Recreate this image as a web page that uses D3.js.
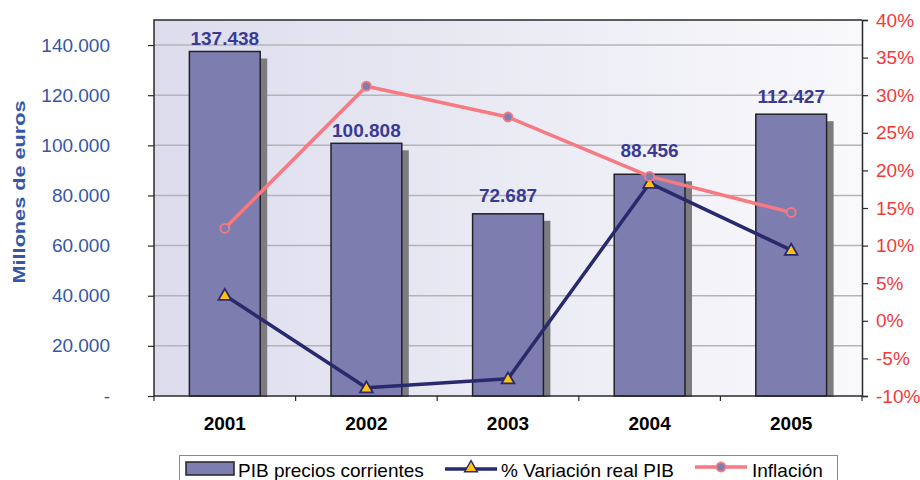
<!DOCTYPE html>
<html>
<head>
<meta charset="utf-8">
<script src="https://cdn.jsdelivr.net/npm/d3@7"></script>
<style>
  html, body { margin: 0; padding: 0; background: #fff; }
  svg { display: block; font-family: Arial, "Liberation Sans", sans-serif; }
</style>
</head>
<body>
<svg id="chart" width="920" height="480"></svg>
<script>
// PIB de Venezuela 2001-2005: valor en millones de euros, crecimiento real e inflación
const years = ["2001", "2002", "2003", "2004", "2005"];
const pibCorriente = [137438, 100808, 72687, 88456, 112427];
const variacionReal = [3.4, -8.9, -7.7, 18.3, 9.4];
const inflacion = [12.3, 31.2, 27.1, 19.2, 14.4];
const leftTicks = [0, 20000, 40000, 60000, 80000, 100000, 120000, 140000];
const rightTicks = [-10, -5, 0, 5, 10, 15, 20, 25, 30, 35, 40];

const fmtMiles = v => v === 0 ? "-" : d3.format(",")(v).replace(/,/g, ".");

const svg = d3.select("#chart");
const m = { left: 154, right: 862, top: 20, bottom: 396 };
const FONT = "Arial, 'Liberation Sans', sans-serif";
// separación (px) entre cada etiqueta de valor y el techo de su barra,
// algo mayor donde las líneas pasarían por encima del texto
const labelGap = [6, 6, 12, 17, 11];

const x = d3.scaleBand().domain(years).range([m.left, m.right]).paddingInner(0.5).paddingOuter(0.25);
const xc = d3.scalePoint().domain(years).range([m.left, m.right]).padding(0.5);
const yL = d3.scaleLinear().domain([0, 150000]).range([m.bottom, m.top]);
const yR = d3.scaleLinear().domain([-10, 40]).range([m.bottom, m.top]);

// fondo del área de trazado con degradado horizontal
const defs = svg.append("defs");
const grad = defs.append("linearGradient").attr("id", "bg").attr("x1", 0).attr("x2", 1).attr("y1", 0).attr("y2", 0);
grad.append("stop").attr("offset", 0).attr("stop-color", "#dcdced");
grad.append("stop").attr("offset", 1).attr("stop-color", "#f9f9fc");

svg.append("rect")
  .attr("x", m.left).attr("y", m.top)
  .attr("width", m.right - m.left).attr("height", m.bottom - m.top)
  .attr("fill", "url(#bg)");

// líneas de cuadrícula
svg.append("g").selectAll("line")
  .data(leftTicks.filter(d => d > 0))
  .join("line")
  .attr("x1", m.left).attr("x2", m.right)
  .attr("y1", d => yL(d)).attr("y2", d => yL(d))
  .attr("stroke", "#b4b4b8").attr("stroke-width", 1.5);

// marco superior e izquierdo
svg.append("path")
  .attr("d", `M${m.left},${m.bottom}V${m.top}H${m.right}`)
  .attr("fill", "none").attr("stroke", "#2a2a2a").attr("stroke-width", 1.5);

// barras con sombra
const bw = x.bandwidth();
const bars = svg.append("g");
bars.selectAll("rect.shadow")
  .data(pibCorriente)
  .join("rect")
  .attr("class", "shadow")
  .attr("x", (d, i) => x(years[i]) + 7)
  .attr("y", d => yL(d) + 7)
  .attr("width", bw)
  .attr("height", d => m.bottom - yL(d) - 6)
  .attr("fill", "#7c7c80");
bars.selectAll("rect.bar")
  .data(pibCorriente)
  .join("rect")
  .attr("class", "bar")
  .attr("x", (d, i) => x(years[i]))
  .attr("y", d => yL(d))
  .attr("width", bw)
  .attr("height", d => m.bottom - yL(d))
  .attr("fill", "#7d7daf")
  .attr("stroke", "#222228").attr("stroke-width", 1.5);

// etiquetas de valor de las barras
svg.append("g").selectAll("text")
  .data(pibCorriente)
  .join("text")
  .attr("x", (d, i) => xc(years[i]))
  .attr("y", (d, i) => yL(d) - labelGap[i])
  .attr("text-anchor", "middle")
  .attr("font-size", 19).attr("font-weight", "bold")
  .attr("fill", "#3a3a94")
  .text(d => fmtMiles(d));

// eje X
const xAxisG = svg.append("g").attr("transform", `translate(0,${m.bottom})`);
xAxisG.append("line").attr("x1", m.left).attr("x2", m.right).attr("stroke", "#2a2a2a").attr("stroke-width", 1.5);
xAxisG.selectAll("line.tick")
  .data(d3.range(years.length + 1))
  .join("line")
  .attr("class", "tick")
  .attr("x1", i => m.left + i * x.step()).attr("x2", i => m.left + i * x.step())
  .attr("y1", 0).attr("y2", 5)
  .attr("stroke", "#2a2a2a").attr("stroke-width", 1.2);
xAxisG.selectAll("text")
  .data(years)
  .join("text")
  .attr("x", d => xc(d)).attr("y", 34)
  .attr("text-anchor", "middle")
  .attr("font-size", 19).attr("font-weight", "bold").attr("fill", "#000")
  .text(d => d);

// eje izquierdo
const leftAxis = d3.axisLeft(yL).tickValues(leftTicks).tickSize(6).tickPadding(38).tickFormat(fmtMiles);
const gL = svg.append("g").attr("transform", `translate(${m.left},0)`).call(leftAxis);
gL.select(".domain").remove();
gL.selectAll(".tick line").attr("stroke", "#2a2a2a").attr("stroke-width", 1.2);
gL.selectAll(".tick text").attr("font-size", 19).attr("fill", "#3557a8").attr("font-family", FONT);

svg.append("text")
  .attr("transform", `translate(25,${(m.top + m.bottom) / 2 - 16}) rotate(-90)`)
  .attr("text-anchor", "middle")
  .attr("font-size", 16).attr("font-weight", "bold").attr("fill", "#3557a8")
  .attr("textLength", 183).attr("lengthAdjust", "spacingAndGlyphs")
  .text("Millones de euros");

// eje derecho
const rightAxis = d3.axisRight(yR).tickValues(rightTicks).tickSize(6).tickPadding(8).tickFormat(d => d + "%");
const gR = svg.append("g").attr("transform", `translate(${m.right},0)`).call(rightAxis);
gR.select(".domain").attr("stroke", "#2a2a2a").attr("stroke-width", 1.5);
gR.selectAll(".tick line").attr("stroke", "#2a2a2a").attr("stroke-width", 1.2);
gR.selectAll(".tick text").attr("font-size", 19).attr("fill", "#f23a3a").attr("font-family", FONT);

// serie: % variación real del PIB
const lineR = d3.line().x((d, i) => xc(years[i])).y(d => yR(d));
svg.append("path")
  .datum(variacionReal)
  .attr("d", lineR)
  .attr("fill", "none").attr("stroke", "#29296e").attr("stroke-width", 3.5).attr("stroke-linejoin", "round");
const tri = d3.symbol().type(d3.symbolTriangle).size(70);
svg.append("g").selectAll("path")
  .data(variacionReal)
  .join("path")
  .attr("d", tri)
  .attr("transform", (d, i) => `translate(${xc(years[i])},${yR(d) + 1})`)
  .attr("fill", "#ffc20e").attr("stroke", "#29296e").attr("stroke-width", 1.8);

// serie: inflación
svg.append("path")
  .datum(inflacion)
  .attr("d", lineR)
  .attr("fill", "none").attr("stroke", "#f57a82").attr("stroke-width", 3.5).attr("stroke-linejoin", "round");
svg.append("g").selectAll("circle")
  .data(inflacion)
  .join("circle")
  .attr("cx", (d, i) => xc(years[i]))
  .attr("cy", d => yR(d))
  .attr("r", 4.5)
  .attr("fill", "#7d7daf").attr("stroke", "#f57a82").attr("stroke-width", 1.8);

// leyenda
const lg = svg.append("g").attr("font-size", 19).attr("fill", "#000");
lg.append("rect").attr("x", 179.5).attr("y", 455.5).attr("width", 658).attr("height", 30)
  .attr("fill", "#fff").attr("stroke", "#8a8a8a").attr("stroke-width", 1);
lg.append("rect").attr("x", 186).attr("y", 462).attr("width", 48).attr("height", 13)
  .attr("fill", "#7d7daf").attr("stroke", "#222228").attr("stroke-width", 1.5);
lg.append("text").attr("x", 238).attr("y", 477).text("PIB precios corrientes");

lg.append("line").attr("x1", 445).attr("x2", 497).attr("y1", 469).attr("y2", 469)
  .attr("stroke", "#29296e").attr("stroke-width", 3.5);
lg.append("path").attr("d", tri).attr("transform", "translate(471,468)")
  .attr("fill", "#ffc20e").attr("stroke", "#29296e").attr("stroke-width", 1.5);
lg.append("text").attr("x", 501).attr("y", 477).text("% Variación real PIB");

lg.append("line").attr("x1", 695).attr("x2", 747).attr("y1", 467).attr("y2", 467)
  .attr("stroke", "#f57a82").attr("stroke-width", 3.5);
lg.append("circle").attr("cx", 721).attr("cy", 467).attr("r", 4.5)
  .attr("fill", "#7d7daf").attr("stroke", "#f57a82").attr("stroke-width", 1.8);
lg.append("text").attr("x", 752).attr("y", 477).text("Inflación");
</script>
</body>
</html>
